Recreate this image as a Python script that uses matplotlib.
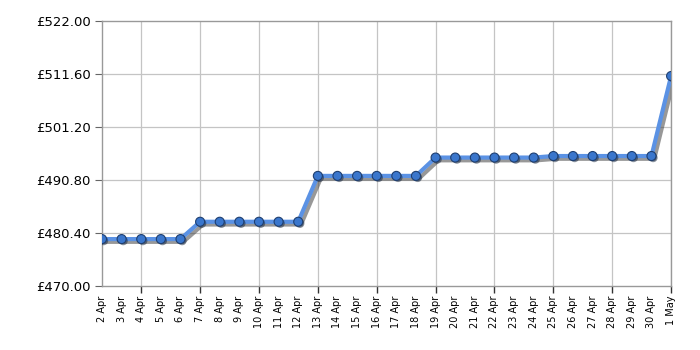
import numpy as np
import matplotlib
matplotlib.use("Agg")
import matplotlib.pyplot as plt
import matplotlib.patheffects as pe

# price history, 2 Apr - 1 May
dates = [f"{d} Apr" for d in range(2, 31)] + ["1 May"]
prices = [479.2] * 5 + [482.6] * 6 + [491.6] * 6 + [495.2] * 6 + [495.5] * 6 + [511.2]
y_ticks = [470.00, 480.40, 490.80, 501.20, 511.60, 522.00]

fig = plt.figure(figsize=(7, 3.5), dpi=100)
ax = fig.add_axes([0.1457, 0.183, 0.813, 0.757])

x = np.arange(len(dates))
shadow = [pe.SimpleLineShadow(offset=(2, -2), shadow_color="#444444", alpha=0.55), pe.Normal()]
ax.plot(x, prices, color="#5b92e4", lw=3, zorder=3, path_effects=shadow)
ax.plot(x, prices, ls="none", marker="o", ms=6.5, mfc="#3a76cc", mec="#1f3f70", mew=0.8, zorder=4,
        path_effects=[pe.SimplePatchShadow(offset=(1.2, -1.2), alpha=0.5), pe.Normal()])

ax.set_xlim(0, len(dates) - 1)
ax.set_ylim(y_ticks[0], y_ticks[-1])
ax.set_yticks(y_ticks)
ax.set_yticklabels([f"£{v:.2f}" for v in y_ticks], fontsize=9.5)

ax.set_xticks(x)
ax.set_xticklabels(dates, rotation=90, fontsize=7)
ax.tick_params(axis="x", length=5, width=1, color="#333333", pad=2)
ax.tick_params(axis="y", length=5, color="#666666", pad=3)

# grid every 3 days (4 Apr, 7 Apr, ...); only those days get a tick mark
grid_idx = [i for i in x if (i + 1) % 3 == 0]
for i, t in enumerate(ax.xaxis.get_major_ticks()):
    if i not in grid_idx:
        t.tick1line.set_visible(False)
for i in grid_idx:
    ax.axvline(i, color="#c4c4c4", lw=0.9, zorder=1)
for v in y_ticks[1:-1]:
    ax.axhline(v, color="#c4c4c4", lw=0.9, zorder=1)

for s in ax.spines.values():
    s.set_color("#999999")
    s.set_linewidth(1)

fig.savefig("out.png", dpi=100)
